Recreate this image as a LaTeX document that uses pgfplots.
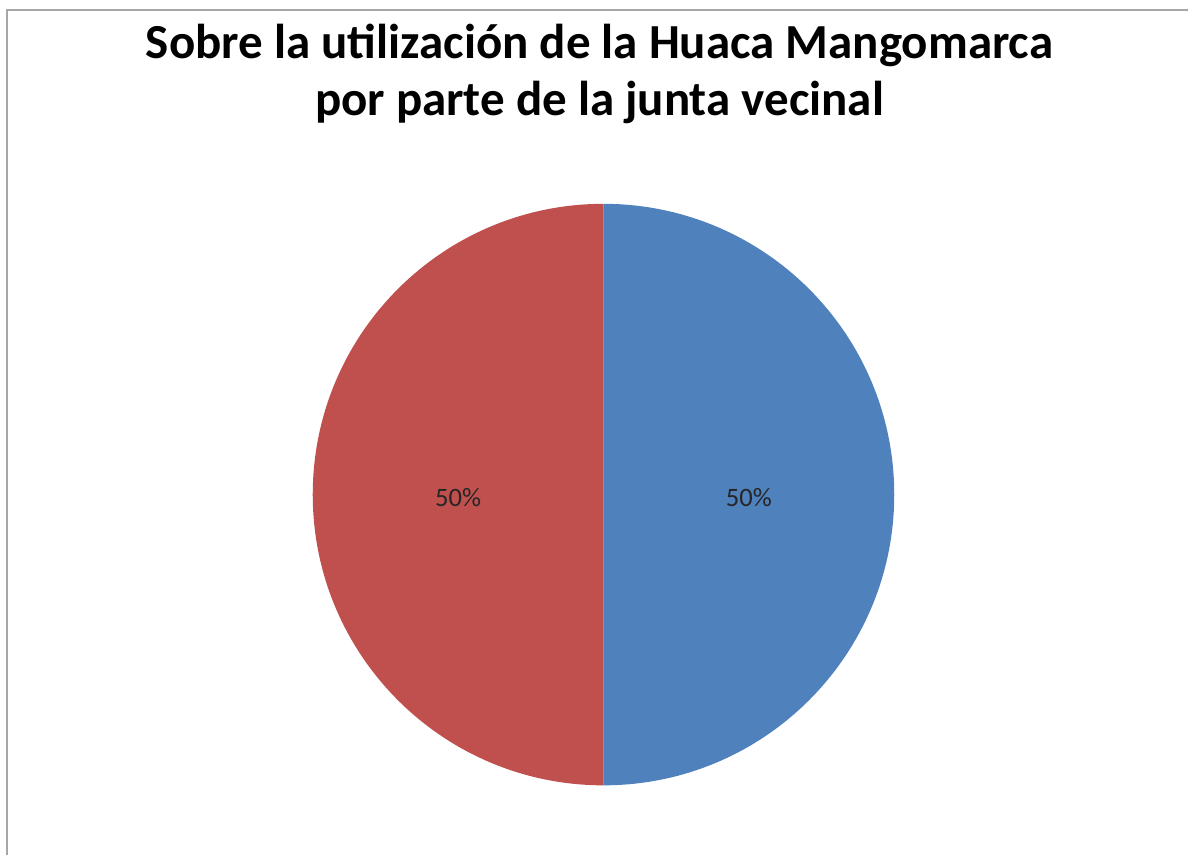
\documentclass[border=0pt]{standalone}
\usepackage{pgfplots}
\pgfplotsset{compat=1.18}
\usepackage{pgfplotstable}
\usetikzlibrary{calc}
\usepackage{fontspec}
\setmainfont{Carlito}

\definecolor{sliceblue}{HTML}{4F81BD}
\definecolor{slicered}{HTML}{C0504D}
\definecolor{framegray}{HTML}{A6A6A6}

% pie data: share of each answer
\pgfplotstableread{
slice value
1 50
2 50
}\piedata

\begin{document}
\begin{tikzpicture}
\pgfplotstablegetelem{0}{value}\of\piedata \let\va\pgfplotsretval
\pgfplotstablegetelem{1}{value}\of\piedata \let\vb\pgfplotsretval
\pgfmathsetmacro\total{\va+\vb}
\pgfmathsetmacro\fa{\va/\total}
\pgfmathsetmacro\fb{\vb/\total}
% slices start at 12 o'clock, clockwise
\pgfmathsetmacro\aStart{90}
\pgfmathsetmacro\aMid{90-360*\fa}
\pgfmathsetmacro\aEnd{\aMid-360*\fb}
\pgfmathsetmacro\lA{(\aStart+\aMid)/2}
\pgfmathsetmacro\lB{(\aMid+\aEnd)/2}
\pgfmathtruncatemacro\pA{round(100*\fa)}
\pgfmathtruncatemacro\pB{round(100*\fb)}
\def\rad{145.5pt}
\begin{axis}[
    width=594.5pt, height=428pt, scale only axis,
    xmin=0, xmax=1189, ymin=0, ymax=856,
    hide axis, clip=false
]
\path (axis cs:0,0) rectangle (axis cs:1189,856);
% chart frame
\draw[framegray, line width=1pt] (axis cs:7,0) -- (axis cs:7,846) -- (axis cs:1189,846);
% title
\node[anchor=base, font=\fontsize{24.5}{28}\selectfont\bfseries] at (axis cs:600,797)
    {Sobre la utilización de la Huaca Mangomarca};
\node[anchor=base, font=\fontsize{24.5}{28}\selectfont\bfseries] at (axis cs:600,740)
    {por parte de la junta vecinal};
% slices
\fill[sliceblue] (axis cs:604,361) -- ++(\aStart:\rad) arc[start angle=\aStart, end angle=\aMid, radius=\rad] -- cycle;
\fill[slicered] (axis cs:604,361) -- ++(\aMid:\rad) arc[start angle=\aMid, end angle=\aEnd, radius=\rad] -- cycle;
% labels
\node[font=\fontsize{13.3}{15}\selectfont, text=black!85] at ($(axis cs:604,358)+(\lA:0.5*\rad)$) {\pA\%};
\node[font=\fontsize{13.3}{15}\selectfont, text=black!85] at ($(axis cs:604,358)+(\lB:0.5*\rad)$) {\pB\%};
\end{axis}
\end{tikzpicture}
\end{document}
